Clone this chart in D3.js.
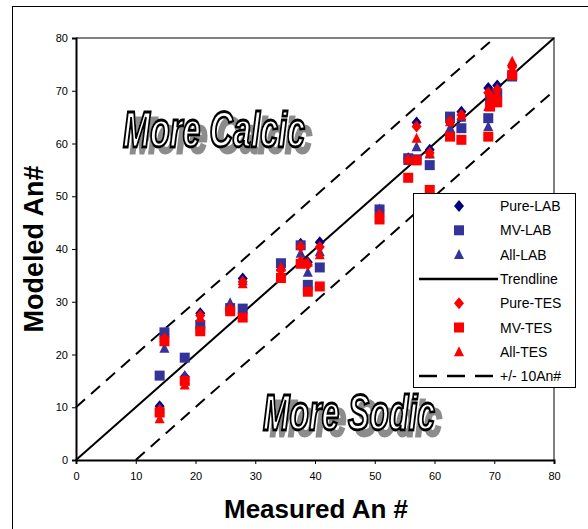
<!DOCTYPE html>
<html>
<head>
<meta charset="utf-8">
<script src="https://cdn.jsdelivr.net/npm/d3@7"></script>
<style>
  body { margin: 0; background: #fff; }
  svg { display: block; font-family: Arial, "Liberation Sans", sans-serif; }
</style>
</head>
<body>
<svg id="chart" width="588" height="529"></svg>
<script>
// Measured An# of each sample (shared by all six model series).
var measured = [14.0, 14.8, 18.2, 20.8, 25.8, 27.9, 34.3, 37.6, 38.8, 40.8,
                50.8, 55.6, 57.0, 59.2, 62.6, 64.5, 69.0, 69.3, 70.5, 73.0];

// Modeled An# per series, same order as measured.
var pureLab = [10.2, 23.8, 15.8, 27.8, 28.5, 34.4, 37.0, 41.0, 37.5, 41.3,
               47.4, 57.2, 64.0, 58.8, 64.0, 66.0, 70.5, 69.8, 71.0, 74.8];
var mvLab   = [16.0, 24.2, 19.4, 25.6, 28.8, 28.7, 37.3, 40.7, 33.2, 36.5,
               47.5, 57.2, 57.0, 55.9, 65.1, 62.9, 64.8, 68.8, 69.5, 72.7];
var allLab  = [9.8, 21.2, 16.0, 25.0, 29.8, 34.0, 36.8, 39.2, 35.6, 39.5,
               47.0, 56.8, 59.4, 58.0, 63.0, 65.0, 63.2, 68.5, 70.5, 73.8];
var pureTes = [9.5, 23.0, 14.5, 27.4, 28.5, 33.8, 36.0, 40.4, 37.0, 40.4,
               46.5, 56.9, 63.2, 58.2, 64.2, 65.4, 69.6, 69.0, 70.2, 74.5];
var mvTes   = [9.0, 22.5, 15.0, 24.4, 28.2, 27.0, 34.5, 37.2, 31.9, 32.9,
               45.6, 53.5, 56.8, 51.2, 61.3, 60.7, 61.3, 67.0, 67.8, 73.0];
var allTes  = [7.8, 23.2, 14.2, 27.0, 29.0, 33.4, 36.6, 38.0, 37.5, 38.9,
               46.2, 57.0, 61.0, 58.2, 64.1, 65.3, 67.0, 68.5, 69.5, 75.6];

var axisTicks = [0, 10, 20, 30, 40, 50, 60, 70, 80];
var legendLabels = ["Pure-LAB", "MV-LAB", "All-LAB", "Trendline",
                    "Pure-TES", "MV-TES", "All-TES", "+/- 10An#"];

var navy = "#000080", blue = "#333399", red = "#ff0000";

var series = [
  { name: "Pure-LAB", values: pureLab, shape: "diamond", color: navy },
  { name: "MV-LAB",   values: mvLab,   shape: "square",  color: blue },
  { name: "All-LAB",  values: allLab,  shape: "triangle", color: blue },
  { name: "Pure-TES", values: pureTes, shape: "diamond", color: red },
  { name: "MV-TES",   values: mvTes,   shape: "square",  color: red },
  { name: "All-TES",  values: allTes,  shape: "triangle", color: red }
];

var svg = d3.select("#chart");

var x = d3.scaleLinear().domain([0, 80]).range([76, 554]);
var y = d3.scaleLinear().domain([0, 80]).range([460, 38]);

// gray drop shadow for the word-art labels
var f = svg.append("defs").append("filter").attr("id", "shadow")
  .attr("x", "-10%").attr("y", "-20%").attr("width", "130%").attr("height", "150%");
f.append("feOffset").attr("in", "SourceAlpha").attr("dx", 7).attr("dy", 6).attr("result", "off");
f.append("feFlood").attr("flood-color", "#8c8c8c");
f.append("feComposite").attr("in2", "off").attr("operator", "in").attr("result", "sh");
var fm = f.append("feMerge");
fm.append("feMergeNode").attr("in", "sh");
fm.append("feMergeNode").attr("in", "SourceGraphic");

// outer frame
svg.append("rect")
  .attr("x", 12.5).attr("y", 6.5)
  .attr("width", 600).attr("height", 600)
  .attr("fill", "none").attr("stroke", "#000").attr("stroke-width", 1);

// gray plot border (top, right)
svg.append("path")
  .attr("d", "M" + x(0) + "," + y(80) + "H" + x(80) + "V" + y(0))
  .attr("fill", "none").attr("stroke", "#808080").attr("stroke-width", 2);

function shapePath(shape) {
  if (shape === "diamond") return "M0,-6L5,0L0,6L-5,0Z";
  if (shape === "square") return "M-5,-5H5V5H-5Z";
  return "M0,-5.5L5,4.5H-5Z";
}

// 1:1 trendline and +/-10 envelope
var lines = [
  { a: [0, 0], b: [80, 80], dash: null },
  { a: [0, 10], b: [70, 80], dash: "12,8" },
  { a: [10, 0], b: [80, 70], dash: "12,8" }
];
svg.append("g").selectAll("line")
  .data(lines)
  .enter()
  .append("line")
  .attr("x1", function(d) { return x(d.a[0]); })
  .attr("y1", function(d) { return y(d.a[1]); })
  .attr("x2", function(d) { return x(d.b[0]); })
  .attr("y2", function(d) { return y(d.b[1]); })
  .attr("stroke", "#000")
  .attr("stroke-width", 2)
  .attr("stroke-dasharray", function(d) { return d.dash; });

// points
series.forEach(function(s) {
  svg.append("g").selectAll("path")
    .data(s.values)
    .enter()
    .append("path")
    .attr("d", shapePath(s.shape))
    .attr("transform", function(d, i) {
      return "translate(" + x(measured[i]) + "," + y(d) + ")";
    })
    .attr("fill", s.color);
});

// axes
var yAxis = svg.append("g")
  .attr("transform", "translate(" + x(0) + ",0)")
  .call(d3.axisLeft(y).tickValues(axisTicks).tickSize(4).tickPadding(4));
var xAxis = svg.append("g")
  .attr("transform", "translate(0," + y(0) + ")")
  .call(d3.axisBottom(x).tickValues(axisTicks).tickSize(4).tickPadding(8));
[xAxis, yAxis].forEach(function(ax) {
  ax.select(".domain").attr("stroke-width", 2);
  ax.selectAll("text").attr("font-size", 11).attr("font-family", "Arial, 'Liberation Sans', sans-serif");
});

// axis titles
svg.append("text")
  .attr("x", 316).attr("y", 518)
  .attr("text-anchor", "middle")
  .attr("font-size", 26).attr("font-weight", "bold")
  .text("Measured An #");
svg.append("text")
  .attr("transform", "translate(43,249) rotate(-90)")
  .attr("text-anchor", "middle")
  .attr("font-size", 27).attr("font-weight", "bold")
  .text("Modeled An#");

// word-art style labels
function wordArt(txt, x0, base, w) {
  svg.append("text").attr("x", x0).attr("y", base)
    .attr("font-size", 50).attr("font-weight", "bold").attr("font-style", "italic")
    .attr("font-family", "Arial, 'Liberation Sans', sans-serif")
    .attr("textLength", w).attr("lengthAdjust", "spacingAndGlyphs")
    .attr("fill", "#fff").attr("stroke", "#000").attr("stroke-width", 2.8)
    .attr("filter", "url(#shadow)")
    .text(txt);
}
wordArt("More Calcic", 123, 147, 182);
wordArt("More Sodic", 263, 430, 172);

// legend
var lg = svg.append("g");
lg.append("rect")
  .attr("x", 413.5).attr("y", 193.5)
  .attr("width", 162).attr("height", 194)
  .attr("fill", "#fff").attr("stroke", "#000").attr("stroke-width", 1);

var legendRows = [
  { shape: "diamond", color: navy }, { shape: "square", color: blue },
  { shape: "triangle", color: blue }, { line: null },
  { shape: "diamond", color: red }, { shape: "square", color: red },
  { shape: "triangle", color: red }, { line: "18,10" }
];
legendRows.forEach(function(r, i) {
  var ry = 206 + i * 24.3;
  if (r.shape) {
    lg.append("path").attr("d", shapePath(r.shape))
      .attr("transform", "translate(459," + ry + ")").attr("fill", r.color);
  } else {
    lg.append("line").attr("x1", 419).attr("x2", 498)
      .attr("y1", ry).attr("y2", ry)
      .attr("stroke", "#000").attr("stroke-width", 2.5)
      .attr("stroke-dasharray", r.line);
  }
  lg.append("text").attr("x", 500).attr("y", ry + 5)
    .attr("font-size", 14).text(legendLabels[i]);
});
</script>
</body>
</html>
